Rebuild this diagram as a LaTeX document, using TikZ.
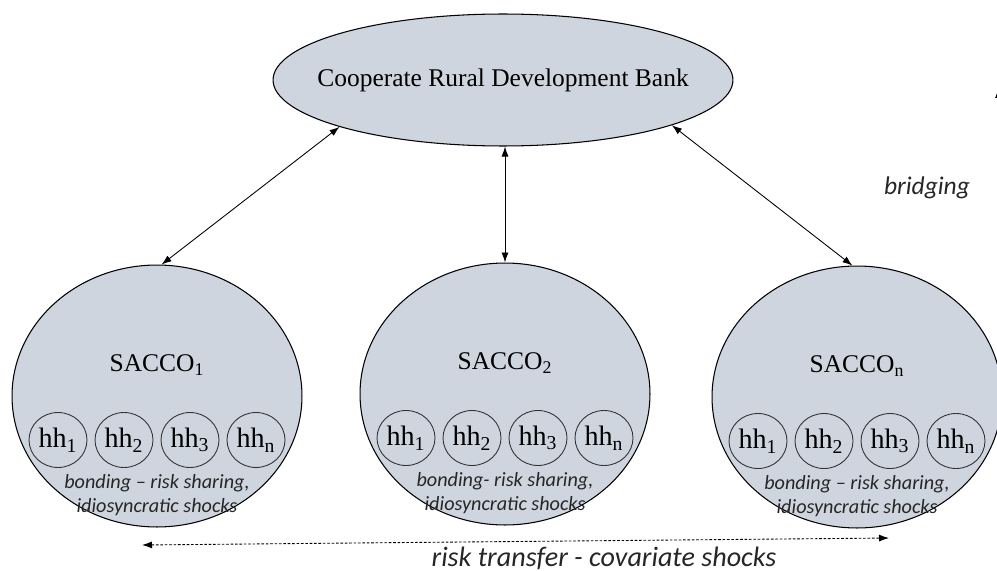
\documentclass[tikz,border=0pt]{standalone}
\usepackage{fontspec}
\setmainfont{Liberation Serif}
\newfontfamily\calibri[Ligatures=TeX]{Carlito}
\usetikzlibrary{shapes.geometric,arrows.meta}
\definecolor{saccofill}{RGB}{206,213,223}

\begin{document}
\begin{tikzpicture}[x=0.02cm,y=-0.02cm,
  bankshape/.style={ellipse,draw,fill=saccofill,line width=0.6pt,minimum width=9.2cm,minimum height=2.64cm,inner sep=0pt},
  saccoshape/.style={ellipse,draw,fill=saccofill,line width=0.6pt,minimum width=5.8cm,minimum height=5.24cm,inner sep=0pt},
  hhshape/.style={ellipse,draw=black!80,line width=0.5pt,minimum width=1.16cm,minimum height=1.1cm,inner sep=0pt,font=\fontsize{16}{18}\selectfont},
  saccolabel/.style={font=\fontsize{14.5}{17}\selectfont},
  bondtext/.style={font=\calibri\itshape\fontsize{11.5}{14}\selectfont,align=center,text=black!85},
  notetext/.style={font=\calibri\itshape\fontsize{14.5}{17}\selectfont,text=black!85},
  link/.style={{Latex[length=2mm,width=1.4mm]}-{Latex[length=2mm,width=1.4mm]},line width=0.5pt}]
\useasboundingbox (0,0) rectangle (997,571); % page size
\clip (0,0) rectangle (997,571); % right circle runs off the page
\node[bankshape] (bank) at (503,80) {}; % top level
\node[saccolabel] (banklabel) at (bank.center) {Cooperate Rural Development Bank};
\foreach \s/\cx/\cy in {1/157/396,2/505/394,n/857/397}{
  \node[saccoshape] (sacco\s) at (\cx,\cy) {}; % sacco body
  \node[saccolabel] (saccolabel\s) at (\cx,\cy-31) {SACCO\textsubscript{\s}}; % sacco name
  \foreach \h/\dx in {1/-99,2/-33,3/33,n/99}
    \node[hhshape] (hh\s\h) at (\cx+\dx,\cy+44) {hh\textsubscript{\h}}; % households
}
\node[bondtext] (bond1) at (157,495) {bonding -- risk sharing,\\idiosyncratic shocks}; % left note
\node[bondtext] (bond2) at (505,493) {bonding- risk sharing,\\idiosyncratic shocks}; % middle note
\node[bondtext] (bondn) at (857,496) {bonding -- risk sharing,\\idiosyncratic shocks}; % right note
\draw[link] (bank.196) -- (sacco1.88); % left link
\draw[link] (bank.south -| sacco2) -- (sacco2.north); % middle link
\draw[link] (bank.345) -- (saccon.92); % right link
\node[notetext] (bridging) at (927,188) {bridging}; % side note
\coordinate (bridgebot) at (998.5,137); % cut off arrow
\coordinate (bridgetop) at (998.5,88);
\draw[-{Latex[length=2mm,width=1.4mm]},line width=0.5pt] (bridgebot) -- (bridgetop);
\coordinate (rtleft) at (142,545); % covariate arrow ends
\coordinate (rtright) at (889,538);
\draw[link,dash pattern=on 1.5pt off 1pt] (rtleft) -- (rtright); % risk transfer
\node[notetext,font=\calibri\itshape\fontsize{16}{18}\selectfont] (risktransfer) at (604,558) {risk transfer - covariate shocks};
\end{tikzpicture}
\end{document}
